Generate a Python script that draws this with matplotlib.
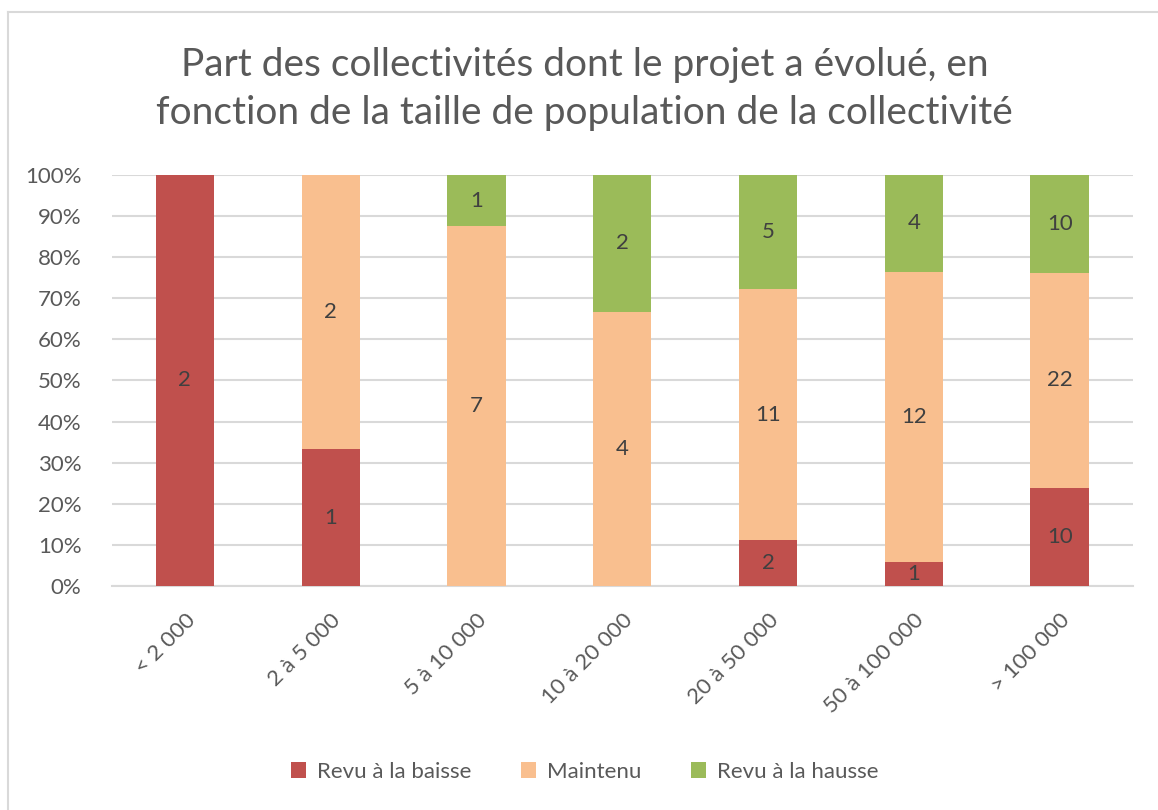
import numpy as np
import matplotlib
matplotlib.use("Agg")
import matplotlib.pyplot as plt
from matplotlib.lines import Line2D
from matplotlib.ticker import PercentFormatter

plt.rcParams["font.family"] = ["Lato", "DejaVu Sans"]

CATEGORIES = ["< 2 000", "2 à 5 000", "5 à 10 000", "10 à 20 000",
              "20 à 50 000", "50 à 100 000", "> 100 000"]
BAISSE = [2, 1, 0, 0, 2, 1, 10]
MAINTENU = [0, 2, 7, 4, 11, 12, 22]
HAUSSE = [0, 0, 1, 2, 5, 4, 10]
SERIES = ["Revu à la baisse", "Maintenu", "Revu à la hausse"]
COLORS = ["#C0504D", "#F9BF8F", "#9BBB59"]

counts = np.array([BAISSE, MAINTENU, HAUSSE], dtype=float)
shares = counts / counts.sum(axis=0, keepdims=True)

fig = plt.figure(figsize=(11.58, 8.10), dpi=100)
ax = fig.add_axes([0.0967, 0.2765, 0.8813, 0.5075])

# light chart frame
fig.add_artist(Line2D([8 / 1158, 8 / 1158], [0, 1 - 12 / 810],
                      transform=fig.transFigure, color="#D9D9D9", lw=1.5))
fig.add_artist(Line2D([8 / 1158, 1], [1 - 12 / 810, 1 - 12 / 810],
                      transform=fig.transFigure, color="#D9D9D9", lw=1.5))

x = np.arange(len(CATEGORIES))
bottom = np.zeros(len(CATEGORIES))
for name, col, share, cnt in zip(SERIES, COLORS, shares, counts):
    ax.bar(x, share, width=0.4, bottom=bottom, color=col, label=name, zorder=3)
    for xi, b, s, c in zip(x, bottom, share, cnt):
        if c > 0:
            ax.text(xi, b + s / 2, f"{int(c)}", ha="center", va="center",
                    fontsize=16, color="#404040", zorder=4)
    bottom += share

ax.set_xlim(-0.5, len(CATEGORIES) - 0.5)
ax.set_ylim(0, 1)
ax.set_yticks(np.linspace(0, 1, 11))
ax.yaxis.set_major_formatter(PercentFormatter(1.0, decimals=0))
ax.grid(axis="y", color="#D9D9D9", lw=1.5, zorder=0)
for s in ["top", "right", "left"]:
    ax.spines[s].set_visible(False)
ax.spines["bottom"].set_color("#D9D9D9")
ax.spines["bottom"].set_linewidth(1.5)
ax.tick_params(length=0, labelsize=16, colors="#595959")
ax.tick_params(axis="y", pad=22)
ax.set_xticks(x)
ax.set_xticklabels(CATEGORIES, rotation=45, ha="right", rotation_mode="anchor")
ax.tick_params(axis="x", pad=17)

fig.text(0.505, 1 - 89 / 810,
         "Part des collectivités dont le projet a évolué, en\n"
         "fonction de la taille de population de la collectivité",
         ha="center", va="center", fontsize=28, color="#595959", linespacing=1.4)

fig.legend(loc="center", bbox_to_anchor=(0.505, 1 - 772 / 810), ncol=3,
           frameon=False, fontsize=16, handlelength=0.7, handleheight=0.7,
           columnspacing=2.2, handletextpad=0.5, labelcolor="#595959")

fig.savefig("out.png", dpi=100, facecolor="white")
